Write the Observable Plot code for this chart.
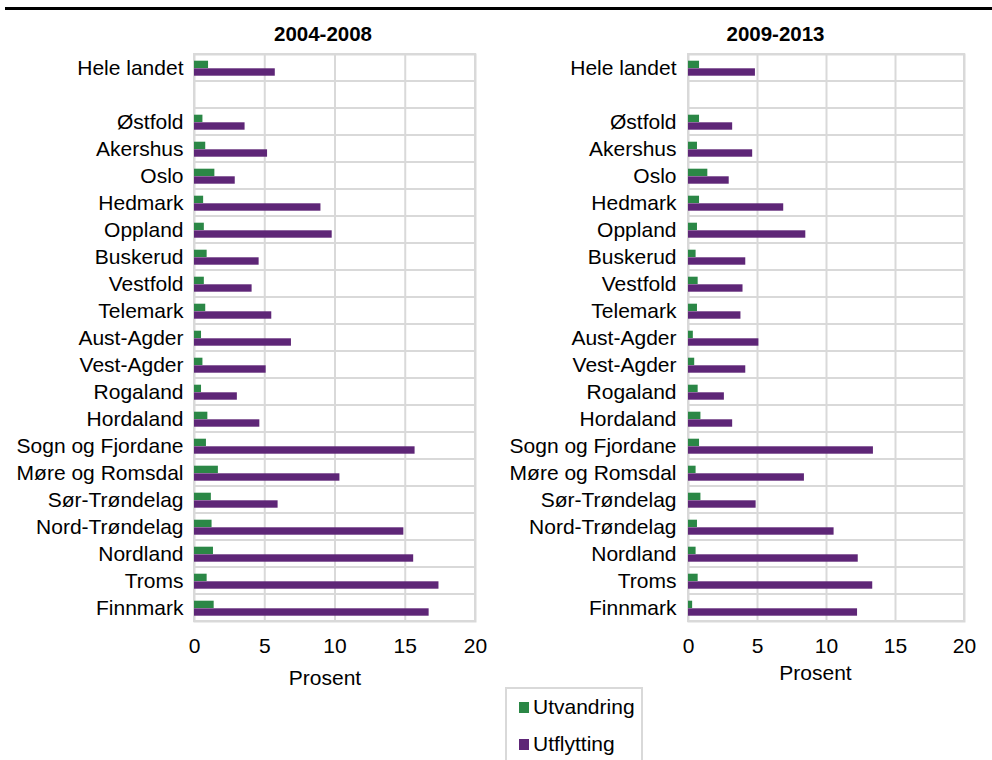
<!DOCTYPE html>
<html>
<head>
<meta charset="utf-8">
<script src="https://cdn.jsdelivr.net/npm/d3@7"></script>
<script src="https://cdn.jsdelivr.net/npm/@observablehq/plot@0.6"></script>
<style>
  html, body { margin: 0; padding: 0; background: #fff; }
  body { width: 992px; height: 760px; position: relative; overflow: hidden; font-family: "Liberation Sans", Arial, sans-serif; }
  #topline { position: absolute; left: 5px; right: 0; top: 7px; height: 2.5px; background: #000; }
  #left { position: absolute; left: 0; top: 0; }
  #right { position: absolute; left: 495px; top: 0; }
  #legend { position: absolute; left: 505px; top: 687px; width: 138px; height: 120px; border: 2px solid #d9d9d9; box-sizing: border-box; }
  .sw { position: absolute; width: 10.5px; height: 11px; }
  .lt { position: absolute; font-size: 21px; line-height: 21px; color: #000; white-space: nowrap; }
</style>
</head>
<body>
<div id="topline"></div>
<div id="left"></div>
<div id="right"></div>
<div id="legend"></div>
<script>
const regions = ["Hele landet", "", "Østfold", "Akershus", "Oslo", "Hedmark", "Oppland", "Buskerud", "Vestfold", "Telemark", "Aust-Agder", "Vest-Agder", "Rogaland", "Hordaland", "Sogn og Fjordane", "Møre og Romsdal", "Sør-Trøndelag", "Nord-Trøndelag", "Nordland", "Troms", "Finnmark"];

const utvandring2004 = [1.0, null, 0.6, 0.8, 1.45, 0.65, 0.7, 0.9, 0.7, 0.8, 0.5, 0.6, 0.5, 0.95, 0.85, 1.7, 1.2, 1.25, 1.35, 0.9, 1.4];
const utflytting2004 = [5.75, null, 3.6, 5.2, 2.9, 9.0, 9.8, 4.6, 4.1, 5.5, 6.9, 5.1, 3.05, 4.65, 15.7, 10.35, 5.95, 14.9, 15.6, 17.4, 16.7];
const utvandring2009 = [0.8, null, 0.8, 0.65, 1.4, 0.8, 0.65, 0.55, 0.7, 0.65, 0.35, 0.45, 0.7, 0.9, 0.8, 0.55, 0.9, 0.65, 0.55, 0.7, 0.3];
const utflytting2009 = [4.85, null, 3.2, 4.65, 2.95, 6.9, 8.5, 4.15, 3.95, 3.8, 5.1, 4.15, 2.6, 3.2, 13.4, 8.4, 4.9, 10.55, 12.3, 13.35, 12.25];

const periods = ["2004-2008", "2009-2013"];
const seriesNames = ["Utvandring", "Utflytting"];
const xTicks = [0, 5, 10, 15, 20];
const axisTitle = "Prosent";

const GREEN = "#2b8746";
const PURPLE = "#5e2677";
const GRID = "#d9d9d9";

function table(utv, utf) {
  return regions.map((r, i) => ({region: r, utv: utv[i], utf: utf[i]})).filter(d => d.utv != null);
}

function panel(title, utv, utf, o) {
  const data = table(utv, utf);
  const H = 700;
  return Plot.plot({
    width: o.width,
    height: H,
    marginLeft: o.marginLeft,
    marginRight: o.marginRight,
    marginTop: 54,
    marginBottom: H - 54 - 567,
    style: {fontFamily: "'Liberation Sans', Arial, sans-serif", fontSize: "21px", color: "#000", background: "transparent", overflow: "visible"},
    x: {domain: [0, 20], ticks: xTicks},
    y: {domain: regions, padding: 0},
    marks: [
      Plot.barX(regions, {y: d => d, x1: 0, x2: 20, fill: "none", stroke: GRID, strokeWidth: 2}),
      Plot.ruleX([5, 10, 15], {stroke: GRID, strokeWidth: 2}),
      Plot.frame({stroke: GRID, strokeWidth: 2}),
      Plot.barX(data, {x: "utv", y: "region", fill: GREEN, insetTop: 6.7, insetBottom: 13}),
      Plot.barX(data, {x: "utf", y: "region", fill: PURPLE, insetTop: 14.3, insetBottom: 5.3}),
      Plot.axisY({tickSize: 0, tickPadding: o.yPad, label: null, fontSize: 21}),
      Plot.axisX({ticks: xTicks, tickSize: 0, tickPadding: 17, label: null, fontSize: 21}),
      Plot.text([title], {frameAnchor: "top", lineAnchor: "bottom", dx: o.titleDx, dy: -14, fontWeight: "bold", fontSize: 20.5}),
      Plot.text([axisTitle], {frameAnchor: "bottom", lineAnchor: "bottom", dx: o.labDx, dy: o.labDy, fontSize: 21})
    ]
  });
}

document.getElementById("left").append(panel(periods[0], utvandring2004, utflytting2004,
  {width: 495, marginLeft: 194, marginRight: 20, yPad: 11, titleDx: -12, labDx: -10, labDy: 63}));
document.getElementById("right").append(panel(periods[1], utvandring2009, utflytting2009,
  {width: 497, marginLeft: 193, marginRight: 28, yPad: 12, titleDx: -51, labDx: -11, labDy: 58}));

const legend = document.getElementById("legend");
const colors = [GREEN, PURPLE];
const swTop = [13, 49.5];
const txTop = [6.5, 44];
seriesNames.forEach((name, i) => {
  const s = document.createElement("div");
  s.className = "sw";
  s.style.left = "11.5px";
  s.style.top = swTop[i] + "px";
  s.style.background = colors[i];
  legend.append(s);
  const t = document.createElement("div");
  t.className = "lt";
  t.style.left = "26px";
  t.style.top = txTop[i] + "px";
  t.textContent = name;
  legend.append(t);
});
</script>
</body>
</html>
